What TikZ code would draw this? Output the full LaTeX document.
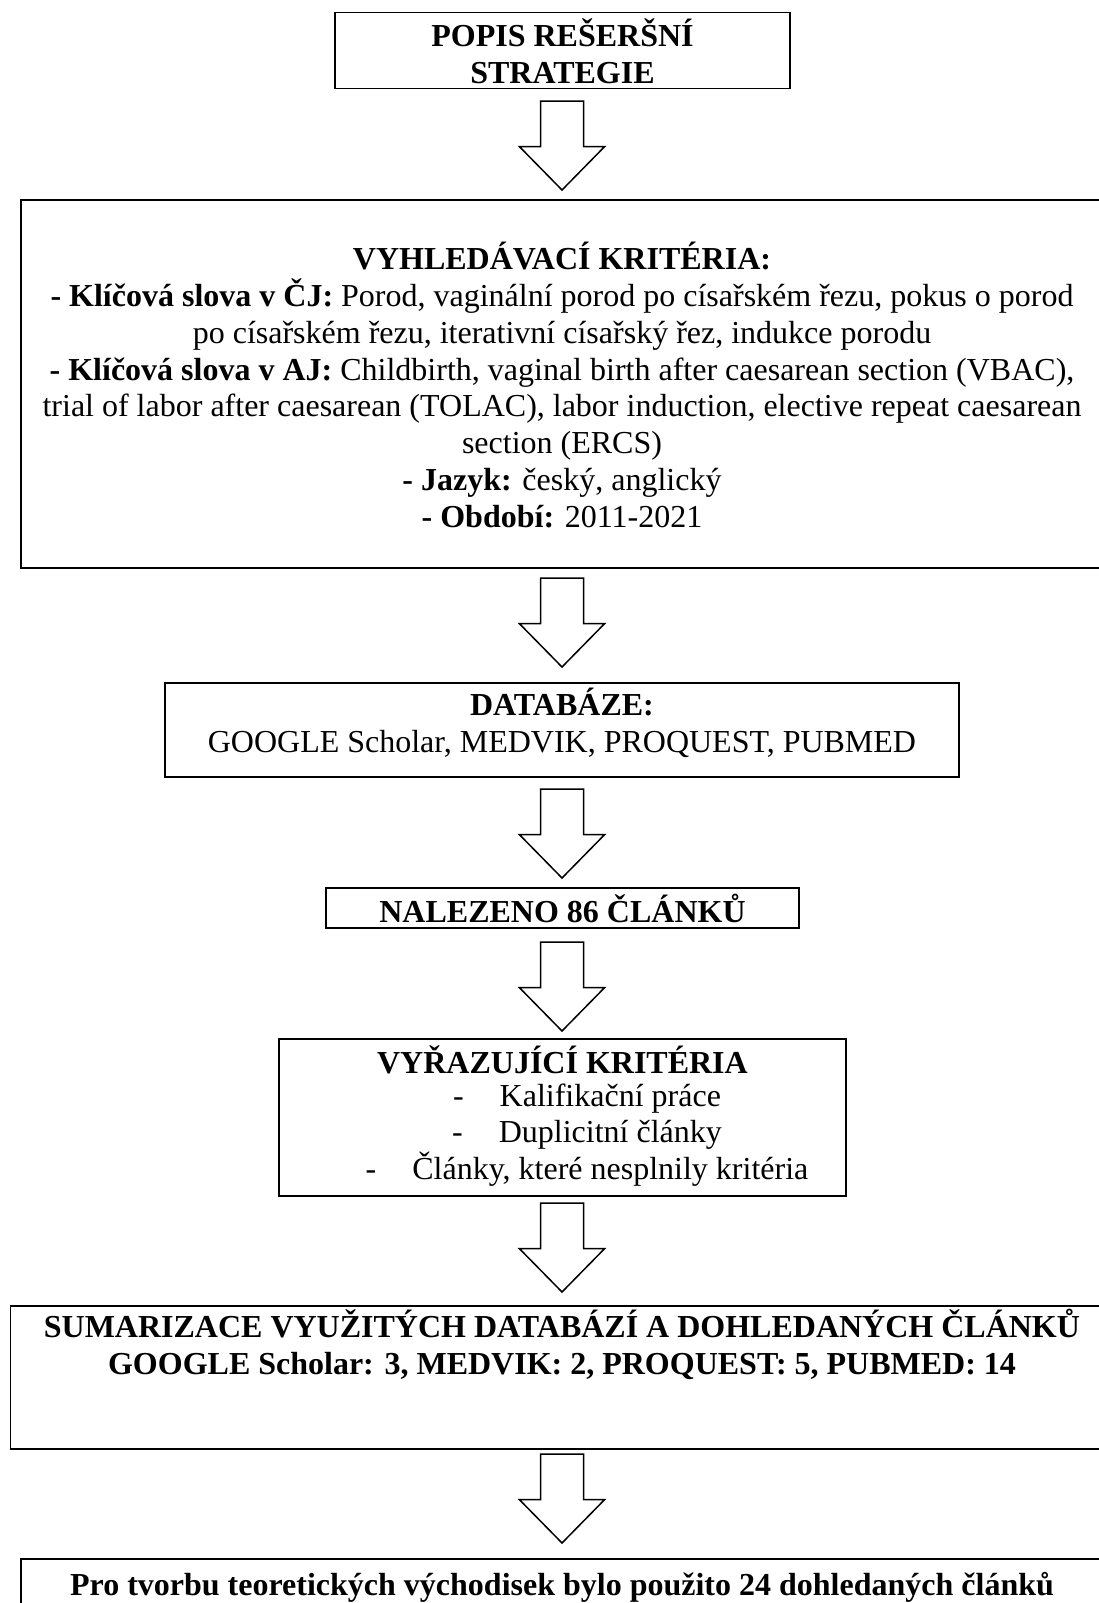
\documentclass[tikz,border=0pt]{standalone}
\usepackage{fontspec}
\setmainfont{Liberation Serif}

\begin{document}
\begin{tikzpicture}[x=1pt,y=-1pt,
  box/.style={draw,line width=1.5pt,inner sep=0pt},
  txt/.style={align=center,inner sep=0pt,font=\fontsize{32}{36.8}\selectfont},
  txtb/.style={align=center,inner sep=0pt,font=\fontsize{32}{36.8}\selectfont\bfseries},
  bigarrow/.pic={\draw[line width=1.5pt,line join=miter] (-21.5,0) -- (-21.5,45.5) -- (-42.7,45.5) -- (0,89) -- (42.7,45.5) -- (21.5,45.5) -- (21.5,0) -- cycle;}]
\path[use as bounding box] (0,0) rectangle (1099,1603);

\node[box,minimum width=455pt,minimum height=75.6pt] (popis) at (562.5,50.5) {};
\node[box,minimum width=1082pt,minimum height=368pt] (kriteria) at (562,384) {};
\node[box,minimum width=794pt,minimum height=94pt] (databaze) at (562,730) {};
\node[box,minimum width=473pt,minimum height=40pt] (nalezeno) at (562.5,908) {};
\node[box,minimum width=567pt,minimum height=157pt] (vyrazeni) at (562.5,1117.5) {};
\node[box,minimum width=1103pt,minimum height=143pt] (sumar) at (562,1377.5) {};
\node[box,minimum width=1082pt,minimum height=91pt] (zaver) at (562,1604.5) {};

\node[txtb] (popist) at (562.5,51.5) {POPIS REŠERŠNÍ\\STRATEGIE};
\node[txt] (kriteriat) at (562,385) {\textbf{VYHLEDÁVACÍ KRITÉRIA:}\\
  \textbf{- Klíčová slova v ČJ:} Porod, vaginální porod po císařském řezu, pokus o porod\\
  po císařském řezu, iterativní císařský řez, indukce porodu\\
  \textbf{- Klíčová slova v AJ:} Childbirth, vaginal birth after caesarean section (VBAC),\\
  trial of labor after caesarean (TOLAC), labor induction, elective repeat caesarean\\
  section (ERCS)\\
  \textbf{- Jazyk:} český, anglický\\
  \textbf{- Období:} 2011-2021};
\node[txt] (databazet) at (562,723) {\textbf{DATABÁZE:}\\GOOGLE Scholar, MEDVIK, PROQUEST, PUBMED};
\node[txtb] (nalezenot) at (562.5,908) {NALEZENO 86 ČLÁNKŮ};
\node[txtb] (vyrazenit) at (562.5,1060) {VYŘAZUJÍCÍ KRITÉRIA};
\node[txt] (vyrazenil) at (587,1135) {-\hspace{36pt}Kalifikační práce\\
  -\hspace{36pt}Duplicitní články\\
  -\hspace{36pt}Články, které nesplnily kritéria};
\node[txtb] (sumart) at (562,1344) {SUMARIZACE VYUŽITÝCH DATABÁZÍ A DOHLEDANÝCH ČLÁNKŮ\\
  GOOGLE Scholar: 3, MEDVIK: 2, PROQUEST: 5, PUBMED: 14};
\node[txtb] (zavert) at (562,1587) {Pro tvorbu teoretických východisek bylo použito 24 dohledaných článků};

\pic (a1) at (562,101) {bigarrow};
\pic (a2) at (562,578) {bigarrow};
\pic (a3) at (562,789) {bigarrow};
\pic (a4) at (562,942) {bigarrow};
\pic (a5) at (562,1203) {bigarrow};
\pic (a6) at (562,1454) {bigarrow};
\end{tikzpicture}
\end{document}
